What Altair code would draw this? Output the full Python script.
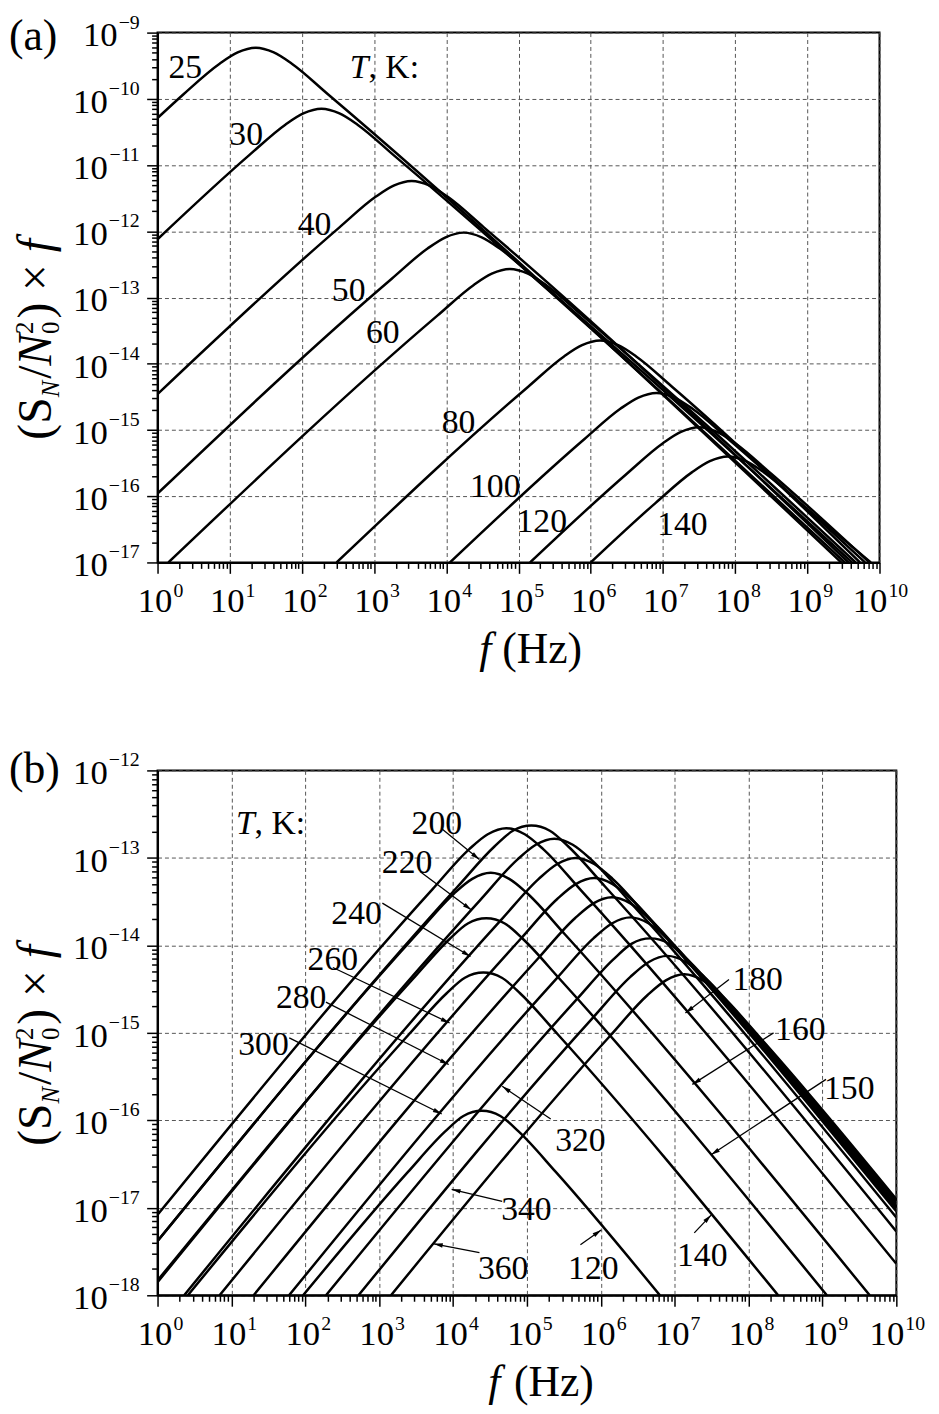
import math
import altair as alt
import pandas as pd

FONT = "Liberation Serif"

# ---------------- Panel (a): log10(f / Hz) and log10((S_N/N0^2) x f)
a25_lf = [0.00, 0.36, 0.86, 1.11, 1.36, 1.61, 1.86, 2.36, 9.47]
a25_lv = [-10.29, -9.93, -9.47, -9.30, -9.23, -9.30, -9.47, -9.93, -17.00]
a30_lf = [0.00, 1.27, 1.77, 2.02, 2.27, 2.52, 2.77, 3.27, 9.52]
a30_lv = [-12.12, -10.85, -10.39, -10.22, -10.15, -10.22, -10.39, -10.85, -17.00]
a40_lf = [0.00, 2.52, 3.02, 3.27, 3.52, 3.77, 4.02, 4.52, 9.57]
a40_lv = [-14.46, -11.94, -11.48, -11.31, -11.24, -11.31, -11.48, -11.94, -17.00]
a50_lf = [0.00, 3.24, 3.74, 3.99, 4.24, 4.49, 4.74, 5.24, 9.62]
a50_lv = [-15.96, -12.72, -12.26, -12.09, -12.02, -12.09, -12.26, -12.72, -17.00]
a60_lf = [0.15, 3.88, 4.38, 4.63, 4.88, 5.13, 5.38, 5.88, 9.67]
a60_lv = [-17.00, -13.27, -12.81, -12.64, -12.57, -12.64, -12.81, -13.27, -17.00]
a80_lf = [2.48, 5.13, 5.63, 5.88, 6.13, 6.38, 6.63, 7.13, 9.73]
a80_lv = [-17.00, -14.35, -13.89, -13.72, -13.65, -13.72, -13.89, -14.35, -17.00]
a100_lf = [4.05, 5.91, 6.41, 6.66, 6.91, 7.16, 7.41, 7.91, 9.80]
a100_lv = [-17.00, -15.14, -14.68, -14.51, -14.44, -14.51, -14.68, -15.14, -17.00]
a120_lf = [5.16, 6.50, 7.00, 7.25, 7.50, 7.75, 8.00, 8.50, 9.86]
a120_lv = [-17.00, -15.66, -15.20, -15.03, -14.96, -15.03, -15.20, -15.66, -17.00]
a140_lf = [6.00, 6.90, 7.40, 7.65, 7.90, 8.15, 8.40, 8.90, 9.88]
a140_lv = [-17.00, -16.10, -15.64, -15.47, -15.40, -15.47, -15.64, -16.10, -17.00]

a_names = ["25", "30", "40", "50", "60", "80", "100", "120", "140"]
a_lfs = [a25_lf, a30_lf, a40_lf, a50_lf, a60_lf, a80_lf, a100_lf, a120_lf, a140_lf]
a_lvs = [a25_lv, a30_lv, a40_lv, a50_lv, a60_lv, a80_lv, a100_lv, a120_lv, a140_lv]

a_lab_text = ["25", "30", "40", "50", "60", "80", "100", "120", "140"]
a_lab_lf = [0.384, 1.228, 2.174, 2.647, 3.121, 4.170, 4.678, 5.322, 7.270]
a_lab_lv = [-9.688, -10.704, -12.049, -13.051, -13.694, -15.039, -16.010, -16.534, -16.579]
a_tk_lf, a_tk_lv = 2.922, -9.688

# ---------------- Panel (b)
b120_lf = [1.97, 3.39, 3.89, 4.14, 4.39, 4.64, 4.89, 5.39, 6.80]
b120_lv = [-18.00, -16.59, -16.13, -15.95, -15.89, -15.95, -16.13, -16.59, -18.00]
b140_lf = [0.41, 3.41, 3.91, 4.16, 4.41, 4.66, 4.91, 5.41, 8.40]
b140_lv = [-18.00, -15.01, -14.55, -14.37, -14.31, -14.37, -14.55, -15.01, -18.00]
b150_lf = [0.00, 3.45, 3.95, 4.20, 4.45, 4.70, 4.95, 5.45, 9.06]
b150_lv = [-17.83, -14.39, -13.93, -13.75, -13.69, -13.75, -13.93, -14.39, -18.00]
b160_lf = [0.00, 3.51, 4.01, 4.26, 4.51, 4.76, 5.01, 5.51, 9.64]
b160_lv = [-17.38, -13.87, -13.41, -13.24, -13.17, -13.24, -13.41, -13.87, -18.00]
b180_lf = [0.00, 3.72, 4.22, 4.47, 4.72, 4.97, 5.22, 5.72, 10.00]
b180_lv = [-17.08, -13.36, -12.90, -12.73, -12.66, -12.73, -12.90, -13.36, -17.64]
b200_lf = [0.00, 4.06, 4.56, 4.81, 5.06, 5.31, 5.56, 6.06, 10.00]
b200_lv = [-17.38, -13.33, -12.87, -12.69, -12.63, -12.69, -12.87, -13.33, -17.27]
b220_lf = [0.00, 4.37, 4.87, 5.12, 5.37, 5.62, 5.87, 6.37, 10.00]
b220_lv = [-17.85, -13.48, -13.02, -12.85, -12.78, -12.85, -13.02, -13.48, -17.11]
b240_lf = [0.36, 4.66, 5.16, 5.41, 5.66, 5.91, 6.16, 6.66, 10.00]
b240_lv = [-18.00, -13.70, -13.24, -13.07, -13.00, -13.07, -13.24, -13.70, -17.04]
b260_lf = [0.84, 4.91, 5.41, 5.66, 5.91, 6.16, 6.41, 6.91, 10.00]
b260_lv = [-18.00, -13.93, -13.47, -13.30, -13.23, -13.30, -13.47, -13.93, -17.02]
b280_lf = [1.30, 5.15, 5.65, 5.90, 6.15, 6.40, 6.65, 7.15, 10.00]
b280_lv = [-18.00, -14.15, -13.69, -13.52, -13.45, -13.52, -13.69, -14.15, -17.00]
b300_lf = [1.78, 5.40, 5.90, 6.15, 6.40, 6.65, 6.90, 7.40, 10.00]
b300_lv = [-18.00, -14.38, -13.92, -13.75, -13.68, -13.75, -13.92, -14.38, -16.98]
b320_lf = [2.28, 5.67, 6.17, 6.42, 6.67, 6.92, 7.17, 7.67, 10.00]
b320_lv = [-18.00, -14.62, -14.16, -13.98, -13.92, -13.98, -14.16, -14.62, -16.95]
b340_lf = [2.72, 5.90, 6.40, 6.65, 6.90, 7.15, 7.40, 7.90, 10.00]
b340_lv = [-18.00, -14.82, -14.36, -14.19, -14.12, -14.19, -14.36, -14.82, -16.92]
b360_lf = [3.16, 6.13, 6.63, 6.88, 7.13, 7.38, 7.63, 8.13, 10.00]
b360_lv = [-18.00, -15.03, -14.57, -14.40, -14.33, -14.40, -14.57, -15.03, -16.90]

b_names = ["120", "140", "150", "160", "180", "200", "220", "240", "260", "280", "300", "320", "340", "360"]
b_lfs = [b120_lf, b140_lf, b150_lf, b160_lf, b180_lf, b200_lf, b220_lf, b240_lf, b260_lf,
         b280_lf, b300_lf, b320_lf, b340_lf, b360_lf]
b_lvs = [b120_lv, b140_lv, b150_lv, b160_lv, b180_lv, b200_lv, b220_lv, b240_lv, b260_lv,
         b280_lv, b300_lv, b320_lv, b340_lv, b360_lv]

b_lab_text = ["200", "220", "240", "260", "280", "300", "320", "340", "360", "120", "140", "150", "160", "180"]
b_lab_lf = [3.780, 3.378, 2.694, 2.373, 1.944, 1.434, 5.724, 4.993, 4.678, 5.898, 7.373, 9.363, 8.700, 8.123]
b_lab_lv = [-12.725, -13.177, -13.755, -14.287, -14.717, -15.249, -16.347, -17.140, -17.819,
            -17.819, -17.660, -15.759, -15.079, -14.513]
b_tk_lf, b_tk_lv = 1.314, -12.725

# arrows of panel (b): from label to curve (tip at the second point)
arr_f1 = [3.847, 3.552, 3.043, 2.373, 2.279, 1.783, 5.322, 4.665, 4.357, 5.724, 7.265, 9.048, 8.338, 7.735]
arr_v1 = [-12.668, -13.155, -13.517, -14.253, -14.649, -15.057, -15.985, -16.925, -17.513, -17.423,
          -17.287, -15.532, -15.000, -14.389]
arr_f2 = [4.357, 4.249, 4.236, 3.954, 3.941, 3.847, 4.665, 3.981, 3.740, 6.005, 7.493, 7.493, 7.239, 7.145]
arr_v2 = [-13.019, -13.596, -14.128, -14.887, -15.362, -15.928, -15.611, -16.789, -17.411, -17.253,
          -17.083, -16.393, -15.589, -14.774]

# tick labels: base "10" and exponent
x_exps = list(range(0, 11))
ya_exps = list(range(-17, -8))
yb_exps = list(range(-18, -11))

FS_TICK, FS_EXP = 35, 20


# ---------------- helpers
def curves(names, lfs, lvs):
    rows = []
    for n, lf, lv in zip(names, lfs, lvs):
        for i, (x, y) in enumerate(zip(lf, lv)):
            rows.append({"T": n, "i": i, "f": 10.0 ** x, "v": 10.0 ** y})
    return pd.DataFrame(rows)


def labels_df(texts, lfs, lvs):
    return pd.DataFrame({"t": texts, "f": [10.0 ** x for x in lfs], "v": [10.0 ** y for y in lvs]})


def exp_str(e):
    return ("\u2212" + str(-e)) if e < 0 else str(e)


TEST = "abs(log(datum.value)/LN10 - round(log(datum.value)/LN10)) < 0.001"


def tick_values(n0, n1):
    vals = []
    for n in range(n0, n1):
        for k in range(1, 10):
            vals.append(float("%de%d" % (k, n)))
    vals.append(float("1e%d" % n1))
    return vals


def make_axis(values, orient):
    return alt.Axis(values=values, labels=False, orient=orient, title=None,
                    tickSize={"condition": {"test": TEST, "value": 11}, "value": 6},
                    tickColor="black", tickWidth=1.5,
                    grid=True, gridColor="#555555", gridDash=[4, 3], gridWidth=1,
                    gridOpacity={"condition": {"test": TEST, "value": 1}, "value": 0},
                    domainColor="black", domainWidth=2)


def ptext(text, x, y, size, style="normal", align="left", angle=0):
    return alt.Chart(pd.DataFrame({"t": [text]})).mark_text(
        font=FONT, fontSize=size, fontStyle=style, align=align, baseline="alphabetic",
        angle=angle, color="black").encode(x=alt.value(x), y=alt.value(y), text="t:N")


def ytitle(xb, y0):
    fs, fs2 = 48, 25
    parts = [("(S", "normal", fs, 0.0, 0),
             ("N", "italic", fs2, 42.7, 8),
             ("/", "normal", fs, 61.4, 0),
             ("N", "italic", fs, 74.7, 0),
             ("0", "normal", fs2, 106.7, 8),
             ("2", "normal", fs2, 106.7, -18),
             (") × ", "normal", fs, 122.2, 0),
             ("f", "italic", fs, 189.3, 0)]
    return [ptext(t, xb + dx, y0 - al, s, style=st, angle=270) for (t, st, s, al, dx) in parts]


def xtick_labels(X, h):
    layers = []
    for group, dxb, dxe in [([e for e in x_exps if e < 10], -20, 16), ([10], -27, 9)]:
        d = pd.DataFrame({"f": [10.0 ** e for e in group], "b": ["10"] * len(group),
                          "e": [exp_str(e) for e in group]})
        layers.append(alt.Chart(d).mark_text(font=FONT, fontSize=FS_TICK, align="left", baseline="alphabetic",
                                             dx=dxb, color="black").encode(x=X("f"), y=alt.value(h + 50), text="b:N"))
        layers.append(alt.Chart(d).mark_text(font=FONT, fontSize=FS_EXP, align="left", baseline="alphabetic",
                                             dx=dxe, color="black").encode(x=X("f"), y=alt.value(h + 35), text="e:N"))
    return layers


def ytick_labels(Y, exps):
    layers = []
    for nch, ew in [(2, 21.3), (3, 31.3)]:
        group = [e for e in exps if len(exp_str(e)) == nch]
        if not group:
            continue
        d = pd.DataFrame({"v": [10.0 ** e for e in group], "b": ["10"] * len(group),
                          "e": [exp_str(e) for e in group]})
        layers.append(alt.Chart(d).mark_text(font=FONT, fontSize=FS_TICK, align="right", baseline="alphabetic",
                                             dy=14, color="black").encode(x=alt.value(-18 - ew - 1), y=Y("v"), text="b:N"))
        layers.append(alt.Chart(d).mark_text(font=FONT, fontSize=FS_EXP, align="right", baseline="alphabetic",
                                             dy=-4, color="black").encode(x=alt.value(-18), y=Y("v"), text="e:N"))
    return layers


def panel(df, ydom, yexps, w, h, labs, tk, letter, letter_y, y0, fcx, hzx, extra=None):
    xs = alt.Scale(type="log", domain=[1, 1e10])
    ys = alt.Scale(type="log", domain=ydom)
    ax = make_axis(tick_values(0, 10), "bottom")
    n0 = int(round(math.log10(ydom[0])))
    n1 = int(round(math.log10(ydom[1])))
    ay = make_axis(tick_values(n0, n1), "left")

    def X(f):
        return alt.X(f, type="quantitative", scale=xs, axis=ax)

    def Y(f):
        return alt.Y(f, type="quantitative", scale=ys, axis=ay)

    lines = alt.Chart(df).mark_line(color="black", strokeWidth=2.5, interpolate="monotone", clip=True).encode(
        x=X("f"), y=Y("v"), detail="T:N", order="i:Q")
    txt = alt.Chart(labs).mark_text(font=FONT, fontSize=34, color="black", baseline="alphabetic",
                                    align="center").encode(x=X("f"), y=Y("v"), text="t:N")
    tkdf = pd.DataFrame({"f": [10.0 ** tk[0]], "v": [10.0 ** tk[1]], "a": ["T"], "b": [", K:"]})
    tT = alt.Chart(tkdf).mark_text(font=FONT, fontSize=34, fontStyle="italic", color="black",
                                   baseline="alphabetic", align="right").encode(x=X("f"), y=Y("v"), text="a:N")
    tK = alt.Chart(tkdf).mark_text(font=FONT, fontSize=34, color="black",
                                   baseline="alphabetic", align="left").encode(x=X("f"), y=Y("v"), text="b:N")
    layers = [lines, txt, tT, tK]
    if extra is not None:
        layers += extra(X, Y)
    layers += xtick_labels(X, h)
    layers += ytick_labels(Y, yexps)
    layers.append(ptext(letter, -150, letter_y, 44))
    layers += ytitle(-108, y0)
    layers.append(ptext("f", fcx, h + 102, 44, style="italic", align="center"))
    layers.append(ptext("(Hz)", hzx, h + 102, 44))
    return alt.layer(*layers).properties(width=w, height=h)


def arrows(X, Y):
    pxx, pxy = 74.6, 88.33
    ang = []
    for f1, v1, f2, v2 in zip(arr_f1, arr_v1, arr_f2, arr_v2):
        dx = (f2 - f1) * pxx
        dy = -(v2 - v1) * pxy
        ang.append(math.degrees(math.atan2(dx, -dy)) % 360)
    adf = pd.DataFrame({"x1": [10.0 ** x for x in arr_f1], "y1": [10.0 ** y for y in arr_v1],
                        "x2": [10.0 ** x for x in arr_f2], "y2": [10.0 ** y for y in arr_v2], "ang": ang})
    rule = alt.Chart(adf).mark_rule(color="black", strokeWidth=1.3).encode(
        x=X("x1"), y=Y("y1"), x2="x2:Q", y2="y2:Q")
    head = alt.Chart(adf).mark_point(shape="M0,0L-0.5,2L0.5,2Z", filled=True, size=81, color="black",
                                     opacity=1, strokeWidth=0).encode(
        x=X("x2"), y=Y("y2"), angle=alt.Angle("ang:Q", scale=None))
    return [rule, head]


pa = panel(curves(a_names, a_lfs, a_lvs), [1e-17, 1e-9], ya_exps, 729, 535,
           labels_df(a_lab_text, a_lab_lf, a_lab_lv), (a_tk_lf, a_tk_lv), "(a)", 18, 411, 331, 348)
pb = panel(curves(b_names, b_lfs, b_lvs), [1e-18, 1e-12], yb_exps, 746, 530,
           labels_df(b_lab_text, b_lab_lf, b_lab_lv), (b_tk_lf, b_tk_lv), "(b)", 13, 379, 340, 360,
           extra=arrows)

chart = alt.vconcat(pa, pb, spacing=75).properties(
    padding={"left": 0, "top": -3, "right": 5, "bottom": 0}
).configure_view(stroke="black", strokeWidth=2)

chart.save("out.html", embed_options={"renderer": "svg", "actions": False})
